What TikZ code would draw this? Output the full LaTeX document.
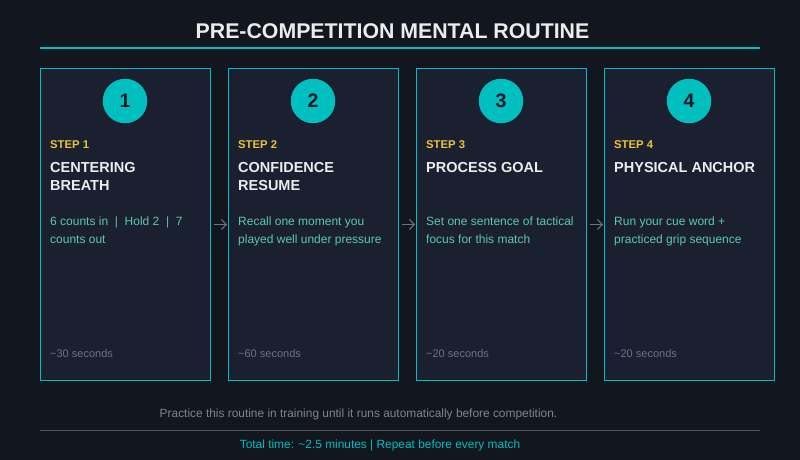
\documentclass[tikz,border=0pt]{standalone}
\usepackage{fontspec}
\setmainfont{Liberation Sans}
\usetikzlibrary{arrows.meta}
\definecolor{bgc}{HTML}{12161F}
\definecolor{boxc}{HTML}{1B2030}
\definecolor{tealc}{HTML}{00BFBF}
\definecolor{yelc}{HTML}{E8C33A}
\definecolor{whc}{HTML}{ECECEC}
\definecolor{descc}{HTML}{5CC8B0}
\definecolor{timec}{HTML}{6B7280}
\definecolor{footc}{HTML}{7D8594}
\definecolor{linec}{HTML}{4B5563}
\definecolor{arrc}{HTML}{6B7280}
\definecolor{numc}{HTML}{141925}
\tikzset{
  card/.style={draw=tealc, fill=boxc, line width=1pt, minimum width=170pt, minimum height=312pt, inner sep=0pt},
  badge/.style={circle, fill=tealc, minimum size=44.5pt, inner sep=0pt, text=numc, font=\fontsize{19.5}{20}\selectfont\bfseries},
  steplbl/.style={anchor=base west, inner sep=0pt, text=yelc, font=\fontsize{11.3}{13}\selectfont\bfseries},
  ttl/.style={anchor=base west, inner sep=0pt, text=whc, font=\fontsize{14.5}{17}\selectfont\bfseries},
  desc/.style={anchor=base west, inner sep=0pt, text=descc, font=\fontsize{12}{14}\selectfont},
  timelbl/.style={anchor=base west, inner sep=0pt, text=timec, font=\fontsize{11}{13}\selectfont},
  arr/.style={draw=arrc, line width=0.9pt, -{Straight Barb[length=5pt,width=10pt]}},
  toprule/.style={draw=tealc, line width=1.4pt},
  botrule/.style={draw=linec, line width=1pt},
}
\newcommand{\stepcard}[7]{%
  \node[card] (box#1) at (#2+85.5,224.5) {};
  \node[badge] (num#1) at (#2+85,101) {#1};
  \node[steplbl] (step#1) at (#2+10,148.3) {STEP #1};
  \node[ttl] (tA#1) at (#2+10,172.3) {#3};
  \node[ttl] (tB#1) at (#2+10,190.3) {#4};
  \node[desc] (dA#1) at (#2+10,225.8) {#5};
  \node[desc] (dB#1) at (#2+10,243.3) {#6};
  \node[timelbl] (time#1) at (#2+10,357.7) {#7};
}
\begin{document}
\begin{tikzpicture}[x=1pt,y=-1pt]
\fill[bgc] (0,0) rectangle (800,460);
\useasboundingbox (0,0) rectangle (800,460);
\node[anchor=base, inner sep=0pt, text=whc, font=\fontsize{21.3}{24}\selectfont\bfseries] (title) at (392.5,38) {PRE-COMPETITION MENTAL ROUTINE};
\coordinate (tl1) at (40,48);
\coordinate (tl2) at (760,48);
\draw[toprule] (tl1) -- (tl2);
\stepcard{1}{40}{CENTERING}{BREATH}{6 counts in\ \ |\ \ Hold 2\ \ |\ \ 7}{counts out}{\char`\~30 seconds}
\stepcard{2}{228}{CONFIDENCE}{RESUME}{Recall one moment you}{played well under pressure}{\char`\~60 seconds}
\stepcard{3}{416}{PROCESS GOAL}{}{Set one sentence of tactical}{focus for this match}{\char`\~20 seconds}
\stepcard{4}{604}{PHYSICAL ANCHOR}{}{Run your cue word +}{practiced grip sequence}{\char`\~20 seconds}
\draw[arr] ([xshift=2.5pt]box1.east) -- ([xshift=-1pt]box2.west);
\draw[arr] ([xshift=2.5pt]box2.east) -- ([xshift=-1pt]box3.west);
\draw[arr] ([xshift=2.5pt]box3.east) -- ([xshift=-1pt]box4.west);
\node[anchor=base, inner sep=0pt, text=footc, font=\fontsize{11.9}{13}\selectfont] (note) at (358.5,417.7) {Practice this routine in training until it runs automatically before competition.};
\coordinate (bl1) at (40,430.5);
\coordinate (bl2) at (760,430.5);
\draw[botrule] (bl1) -- (bl2);
\node[anchor=base, inner sep=0pt, text=tealc, font=\fontsize{11.9}{13}\selectfont] (total) at (380,448.3) {Total time: \char`\~2.5 minutes | Repeat before every match};
\end{tikzpicture}
\end{document}
